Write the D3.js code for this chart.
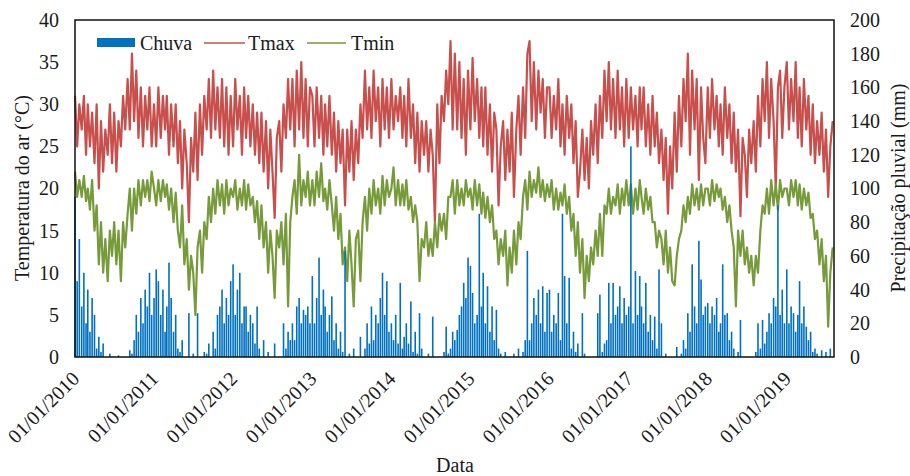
<!DOCTYPE html>
<html><head><meta charset="utf-8">
<script src="https://cdn.jsdelivr.net/npm/d3@7"></script>
<style>body{margin:0;background:#fff}</style>
</head><body><svg id="c" width="910" height="476"></svg>
<script>
// Values every ~10 days (days 1, 11, 21 of each month), Jan 2010 - Aug 2019
const startYear = 2010;
const dekadDays = [1, 11, 21];

// Tmax (°C)
const tmax = [
 31,25,30, 27,31,24, 30,25,29, 23,30,20, 28,22,27, 24,30,23, 29,22,28, 25,31,27, 33,27,36, 28,34,26, 32,25,31, 27,32,25,
 30,25,32, 26,31,27, 31,24,30, 25,30,23, 28,20,27, 23,16,26, 22,29,21, 30,24,31, 27,33,26, 34,27,32, 26,33,25, 32,24,31,
 25,33,27, 31,24,32, 26,31,25, 30,24,29, 23,29,22, 28,20,27, 22,16.5,26, 28,22,30, 26,33,27, 33,25,34, 27,35,26, 33,25,32,
 31,25,32, 26,31,24, 30,25,31, 24,29,22, 28,23,27, 18,27,22, 28,21,27, 23,30,26, 34,27,32, 26,34,28, 32,25,33, 27,32,26,
 33,27,31, 28,32,26, 31,25,33, 26,30,23, 29,22,28, 24,28,22, 27,24,16, 30,23,31, 28,34,30, 37.5,27,36, 27,35,26, 33,24,34,
 27,35.5,28, 33,26,32, 25,32,24, 30,22,29, 27,18,25, 28,21,27, 22,29,19, 27,31,24, 32,26,36, 37.5,28,35, 27,34,29, 33,26,32,
 32,26,31, 27,33,25, 30,24,31, 26,30,23, 28,19,22, 27,21,26, 20,28,24, 30,23,31, 26,34,28, 35,27,33, 26,34,27, 32,25,33,
 26,32,27, 31,25,32, 27,32,25, 30,24,31, 25,29,23, 27,21,26, 17,25,20, 29,22,31, 25,33,28, 36,24,34, 27,33,21, 32,26,23,
 32,26,33, 27,31,25, 30,24,32, 26,30,23, 29,22,27, 16.7,26,24, 19,27,23, 28,22,31, 25,33,28, 35,26,33, 28,20,32, 34,26,32,
 35,27,33, 28,35,26, 32,25,33, 27,31,24, 30,23,28, 24,29,22, 27,19,25, 28
];

// Tmin (°C)
const tmin = [
 22,19,21, 19,21.5,18.5, 20,17.5,21, 15,18,11, 16,10,14, 9,15,12, 16,11,15, 9,16,13, 17,20,15, 20,17,21, 18,21,19, 21,18.5,22,
 20,18,21, 18.5,21,19, 20.5,17.5,20, 16,19.5,15, 13,18,11, 14,8,12, 10,5,13, 15,10,16, 14,19,16, 20,17,21, 18,20.5,17, 21,18,20,
 19,21,17.5, 20,18,21, 17.5,20.5,18, 19,16,18.5, 14,18,13, 16,10,15, 12,7,15, 13,16,11, 17,6,16, 19,21,17, 24,18,21, 19,22,18,
 21,18,22, 19,23,18.5, 20,17.5,21, 18,15,19, 14,17,11, 13,9,15, 11,6,14, 15,9,16, 19,15,20, 17,21,18, 20,17,21.5, 18,21,19,
 20,22.5,18, 21,18,20.5, 18,21,17.5, 19,16,18, 16,9,14, 13,16,12, 14,12,16, 13,17,15, 17,14,19, 19,21,17, 21,18,20, 18,21,19,
 20,17.5,21, 18,20.5,17, 19.5,16.5,19, 16,18,14, 15,11,14, 12,15,8.5, 13,10,15, 11,16,14, 19,21,17.5, 22,19,21, 19.5,22.5,19, 21,18.5,20.5,
 19,21,17.5, 20,17.5,19.5, 18,20.5,17, 19,15,17, 12,16,10, 14,7,12, 9,13,11, 15,12,17, 12,18,17, 20,17,19, 18,20.5,17, 20,18,21,
 18,20.5,17, 20,17.5,21, 19,17,20, 17.5,19,16, 16,13,15, 14,11,15, 10,13,9, 8.5,12,14, 15,18,16, 19,17,20.5, 18,20,17.5, 20.5,18,20,
 20,18,21, 18.5,20.5,19, 20,17.5,19, 16,18,15, 13,6,15, 12,15,11, 13,10,12, 8.5,12,10, 15,18,17, 20,17,21, 18,20.5,17.5, 21,19,20,
 20,18,21, 19,21,18, 20.5,17.5,20, 18,19.5,16.5, 17,14,15, 11,14,9, 12,3.6,10, 13
];

// Chuva (mm)
const chuva = [
 95,45,70, 30,50,20, 40,15,35, 25,5,12, 3,8,0, 0,2,0, 0,0,1, 0,0,0, 0,4,2, 10,25,15, 35,20,40, 30,50,25,
 35,52,45, 25,40,15, 30,56,35, 15,25,5, 3,10,0, 0,26,0, 2,0,26, 0,0,3, 2,8,0, 15,5,25, 30,40,20, 35,25,45,
 55,25,40, 50,20,30, 30,15,25, 20,8,30, 5,0,10, 0,3,0, 0,8,0, 0,0,20, 5,15,10, 20,10,30, 35,20,28, 25,30,20,
 48,20,35, 59,25,40, 30,15,25, 36,10,20, 5,15,3, 63,0,2, 0,5,0, 0,12,0, 5,20,8, 30,10,25, 20,35,50, 25,45,15,
 20,10,25, 8,44,5, 12,20,8, 33,3,15, 2,26,5, 0,0,2, 0,24,0, 0,0,0, 3,18,2, 5,15,10, 16,25,30, 44,35,59,
 54,38,20, 25,85,30, 50,20,42, 15,30,10, 28,5,2, 0,3,0, 0,0,2, 0,5,0, 3,10,63, 10,20,35, 25,40,20, 42,15,38,
 40,15,25, 20,38,10, 85,48,20, 47,5,15, 3,8,0, 26,2,0, 0,0,0, 0,26,37, 3,8,10, 44,20,44, 25,30,42, 20,35,25,
 30,125,20, 51,25,48, 30,20,44, 15,25,10, 24,5,52, 20,0,2, 0,0,0, 0,6,0, 2,10,5, 26,15,55, 30,20,69, 46,25,30,
 32,20,30, 25,35,15, 20,55,25, 26,10,15, 5,0,3, 22,0,0, 0,0,0, 0,3,20, 5,22,8, 15,26,20, 35,30,90, 25,40,20,
 52,20,30, 26,15,25, 45,20,30, 18,10,15, 3,5,2, 0,4,0, 3,0,5, 0
];

const tempTicks = [0, 5, 10, 15, 20, 25, 30, 35, 40];
const rainTicks = [0, 20, 40, 60, 80, 100, 120, 140, 160, 180, 200];
const yearTicks = [2010, 2011, 2012, 2013, 2014, 2015, 2016, 2017, 2018, 2019];
const seriesNames = ["Chuva", "Tmax", "Tmin"];
const colors = {Chuva: "#0070C0", Tmax: "#C8504C", Tmin: "#779A3A"};

const L = 75, R = 834, T = 20, B = 357;
const font = "'Liberation Serif', 'Times New Roman', serif";
const svg = d3.select("#c");
const dateAt = i => new Date(startYear, Math.floor(i / 3), dekadDays[i % 3]);

const x = d3.scaleTime().domain([new Date(2010, 0, 1), new Date(2019, 7, 7)]).range([L, R]);
const yT = d3.scaleLinear().domain([0, 40]).range([B, T]);
const yR = d3.scaleLinear().domain([0, 200]).range([B, T]);

// lines
const lineT = d3.line().x((d, i) => x(dateAt(i))).y(d => yT(d));
svg.append("path").datum(tmax).attr("d", lineT).attr("fill", "none")
  .attr("stroke", colors.Tmax).attr("stroke-width", 2.2).attr("stroke-linejoin", "round");
svg.append("path").datum(tmin).attr("d", lineT).attr("fill", "none")
  .attr("stroke", colors.Tmin).attr("stroke-width", 2.2).attr("stroke-linejoin", "round");

// rain bars (secondary axis, drawn on top)
svg.append("g").selectAll("rect").data(chuva).join("rect")
  .attr("x", (d, i) => x(dateAt(i)) - 0.8)
  .attr("width", 1.6)
  .attr("y", d => yR(d))
  .attr("height", d => B - yR(d))
  .attr("fill", colors.Chuva);

// frame
svg.append("rect").attr("x", L).attr("y", T).attr("width", R - L).attr("height", B - T)
  .attr("fill", "none").attr("stroke", "#111").attr("stroke-width", 1.5);

// axes
const styleAxis = g => {
  g.select(".domain").remove();
  g.selectAll("text").attr("font-family", font).attr("font-size", 20).attr("fill", "#1a1a1a");
};
svg.append("g").attr("transform", `translate(${L},0)`)
  .call(d3.axisLeft(yT).tickValues(tempTicks).tickSize(0).tickPadding(16).tickFormat(d3.format("d")))
  .call(styleAxis);
svg.append("g").attr("transform", `translate(${R},0)`)
  .call(d3.axisRight(yR).tickValues(rainTicks).tickSize(0).tickPadding(16).tickFormat(d3.format("d")))
  .call(styleAxis);
const xa = svg.append("g").attr("transform", `translate(0,${B})`)
  .call(d3.axisBottom(x).tickValues(yearTicks.map(yv => new Date(yv, 0, 1)))
    .tickSize(0).tickFormat(d3.timeFormat("%d/%m/%Y")))
  .call(styleAxis);
xa.selectAll("text").attr("text-anchor", "end").attr("dy", null).attr("y", 0)
  .attr("transform", "translate(5,23) rotate(-45)");

// axis titles
svg.append("text").attr("transform", "translate(29,188) rotate(-90)").attr("text-anchor", "middle")
  .attr("font-family", font).attr("font-size", 20).attr("fill", "#1a1a1a").text("Temperatura do ar (°C)");
svg.append("text").attr("transform", "translate(905,188) rotate(-90)").attr("text-anchor", "middle")
  .attr("font-family", font).attr("font-size", 20).attr("fill", "#1a1a1a").text("Precipitação pluvial (mm)");
svg.append("text").attr("x", 455).attr("y", 472).attr("text-anchor", "middle")
  .attr("font-family", font).attr("font-size", 20).attr("fill", "#1a1a1a").text("Data");

// legend
const lg = svg.append("g");
lg.append("rect").attr("x", 97).attr("y", 38).attr("width", 38).attr("height", 9).attr("fill", colors.Chuva);
lg.append("text").attr("x", 140).attr("y", 50).text(seriesNames[0]);
lg.append("line").attr("x1", 204).attr("x2", 245).attr("y1", 43).attr("y2", 43)
  .attr("stroke", colors.Tmax).attr("stroke-width", 1.7);
lg.append("text").attr("x", 248).attr("y", 50).text(seriesNames[1]);
lg.append("line").attr("x1", 307).attr("x2", 346).attr("y1", 43).attr("y2", 43)
  .attr("stroke", colors.Tmin).attr("stroke-width", 1.7);
lg.append("text").attr("x", 351).attr("y", 50).text(seriesNames[2]);
lg.selectAll("text").attr("font-family", font).attr("font-size", 20).attr("fill", "#1a1a1a");
</script></body></html>
